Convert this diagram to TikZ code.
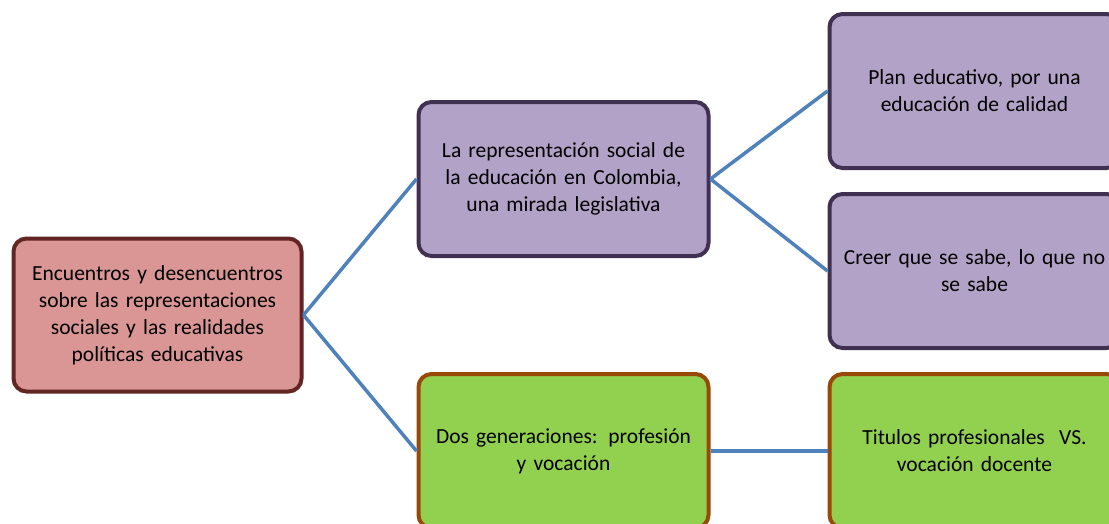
\documentclass[tikz,border=0pt]{standalone}
\usepackage{fontspec}
\setmainfont{Carlito}
\definecolor{rootfill}{HTML}{D99694}
\definecolor{rootdraw}{HTML}{632523}
\definecolor{purfill}{HTML}{B3A2C7}
\definecolor{purdraw}{HTML}{403152}
\definecolor{grnfill}{HTML}{92D050}
\definecolor{grndraw}{HTML}{984807}
\definecolor{linkc}{HTML}{4F81BD}
\tikzset{
  box/.style={rectangle, rounded corners=13pt, line width=4pt, minimum width=290pt, minimum height=154pt, text width=268pt, align=center, inner sep=0pt, font=\fontsize{21.5}{27}\selectfont},
  rootbox/.style={box, fill=rootfill, draw=rootdraw, minimum width=288pt, minimum height=153pt},
  purbox/.style={box, fill=purfill, draw=purdraw},
  grnbox/.style={box, fill=grnfill, draw=grndraw},
  link/.style={draw=linkc, line width=3.5pt}
}
\begin{document}
\begin{tikzpicture}[x=1pt,y=-1pt]
\useasboundingbox (0,0) rectangle (1109,523);
\clip (0,0) rectangle (1109,523);
\fill[white] (0,0) rectangle (1109,523);
\node[rootbox] (root) at (157.5,315) {Encuentros y desencuentros\\sobre las representaciones\\sociales y las realidades\\políticas educativas};
\node[purbox] (mid) at (563.5,179) {La representación social de\\la educación en Colombia,\\una mirada legislativa};
\node[purbox] (plan) at (974.5,91) {Plan educativo, por una\\educación de calidad};
\node[purbox] (creer) at (974.5,271) {Creer que se sabe, lo que no\\se sabe};
\node[grnbox] (dos) at (563.5,451) {Dos generaciones: profesión\\y vocación};
\node[grnbox] (tit) at (974.5,451) {Titulos profesionales\ \ VS.\\vocación docente};
\draw[link] (root.east) -- (mid.west);
\draw[link] (root.east) -- (dos.west);
\draw[link] (mid.east) -- (plan.west);
\draw[link] (mid.east) -- (creer.west);
\draw[link] (dos.east) -- (tit.west);
\end{tikzpicture}
\end{document}
